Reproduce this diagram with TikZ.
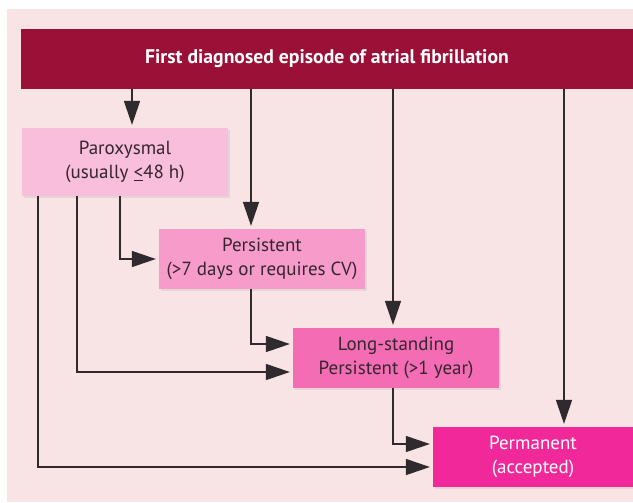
\documentclass[tikz,border=0pt]{standalone}
\usepackage{fontspec}
\setmainfont{PT Sans}
\usetikzlibrary{arrows.meta, shadows}

\definecolor{bgpink}{HTML}{F8E4E4}
\definecolor{banred}{HTML}{9B1036}
\definecolor{paroxpink}{HTML}{F9BEDB}
\definecolor{persistpink}{HTML}{F79BCB}
\definecolor{longpink}{HTML}{F46CB4}
\definecolor{permpink}{HTML}{F0289A}
\definecolor{linegray}{HTML}{2E2A2D}
\definecolor{txtdark}{HTML}{33262F}

\begin{document}
\begin{tikzpicture}[x=0.025cm, y=-0.025cm,
	box/.style={rectangle, inner sep=0pt, align=center, text=txtdark,
	  font=\fontsize{13.5}{17}\selectfont, minimum height=1.5cm,
	  drop shadow={opacity=0.15, shadow xshift=1.5pt, shadow yshift=-1.5pt}},
	arr/.style={draw=linegray, line width=1pt, -{Triangle[length=6mm,width=4mm]}, shorten >=2pt}]
	\useasboundingbox (0,0) rectangle (633,502);
	\fill[bgpink] (7,9) rectangle (633,502);
	% boxes
	\node[fill=banred, minimum width=15.3cm, minimum height=1.5cm, inner sep=0pt, text=white,
	  font=\fontsize{14}{17}\selectfont\bfseries] (banner) at (327,59) {First diagnosed episode of atrial fibrillation};
	\node[box, fill=paroxpink, minimum width=5.15cm, minimum height=1.7cm] (parox) at (125,162) {Paroxysmal\\(usually \underline{<}48 h)};
	\node[box, fill=persistpink, minimum width=5.15cm] (persist) at (262,259) {Persistent\\(>7 days or requires CV)};
	\node[box, fill=longpink, minimum width=5.15cm] (longst) at (396,358) {Long-standing\\Persistent (>1 year)};
	\node[box, fill=permpink, minimum width=5cm, text=white] (perm) at (533,457) {Permanent\\(accepted)};
	% columns and rows of the connectors
	\coordinate (c1) at (132,0);
	\coordinate (c2) at (251,0);
	\coordinate (c3) at (393,0);
	\coordinate (c4) at (564,0);
	\coordinate (d1) at (38,0);
	\coordinate (d2) at (77,0);
	\coordinate (d3) at (120,0);
	\coordinate (r1) at (0,344);
	\coordinate (r2) at (0,372);
	\coordinate (r3) at (0,444);
	\coordinate (r4) at (0,467);
	% from the first episode
	\draw[arr] (banner.south -| c1) -- (parox.north -| c1);
	\draw[arr] (banner.south -| c2) -- (persist.north -| c2);
	\draw[arr] (banner.south -| c3) -- (longst.north -| c3);
	\draw[arr] (banner.south -| c4) -- (perm.north -| c4);
	% progression
	\draw[arr] (parox.south -| d3) |- (persist.west);
	\draw[arr] (parox.south -| d2) |- (longst.west |- r2);
	\draw[arr] (parox.south -| d1) |- (perm.west |- r4);
	\draw[arr] (persist.south -| c2) |- (longst.west |- r1);
	\draw[arr] (longst.south -| c3) |- (perm.west |- r3);
\end{tikzpicture}
\end{document}
